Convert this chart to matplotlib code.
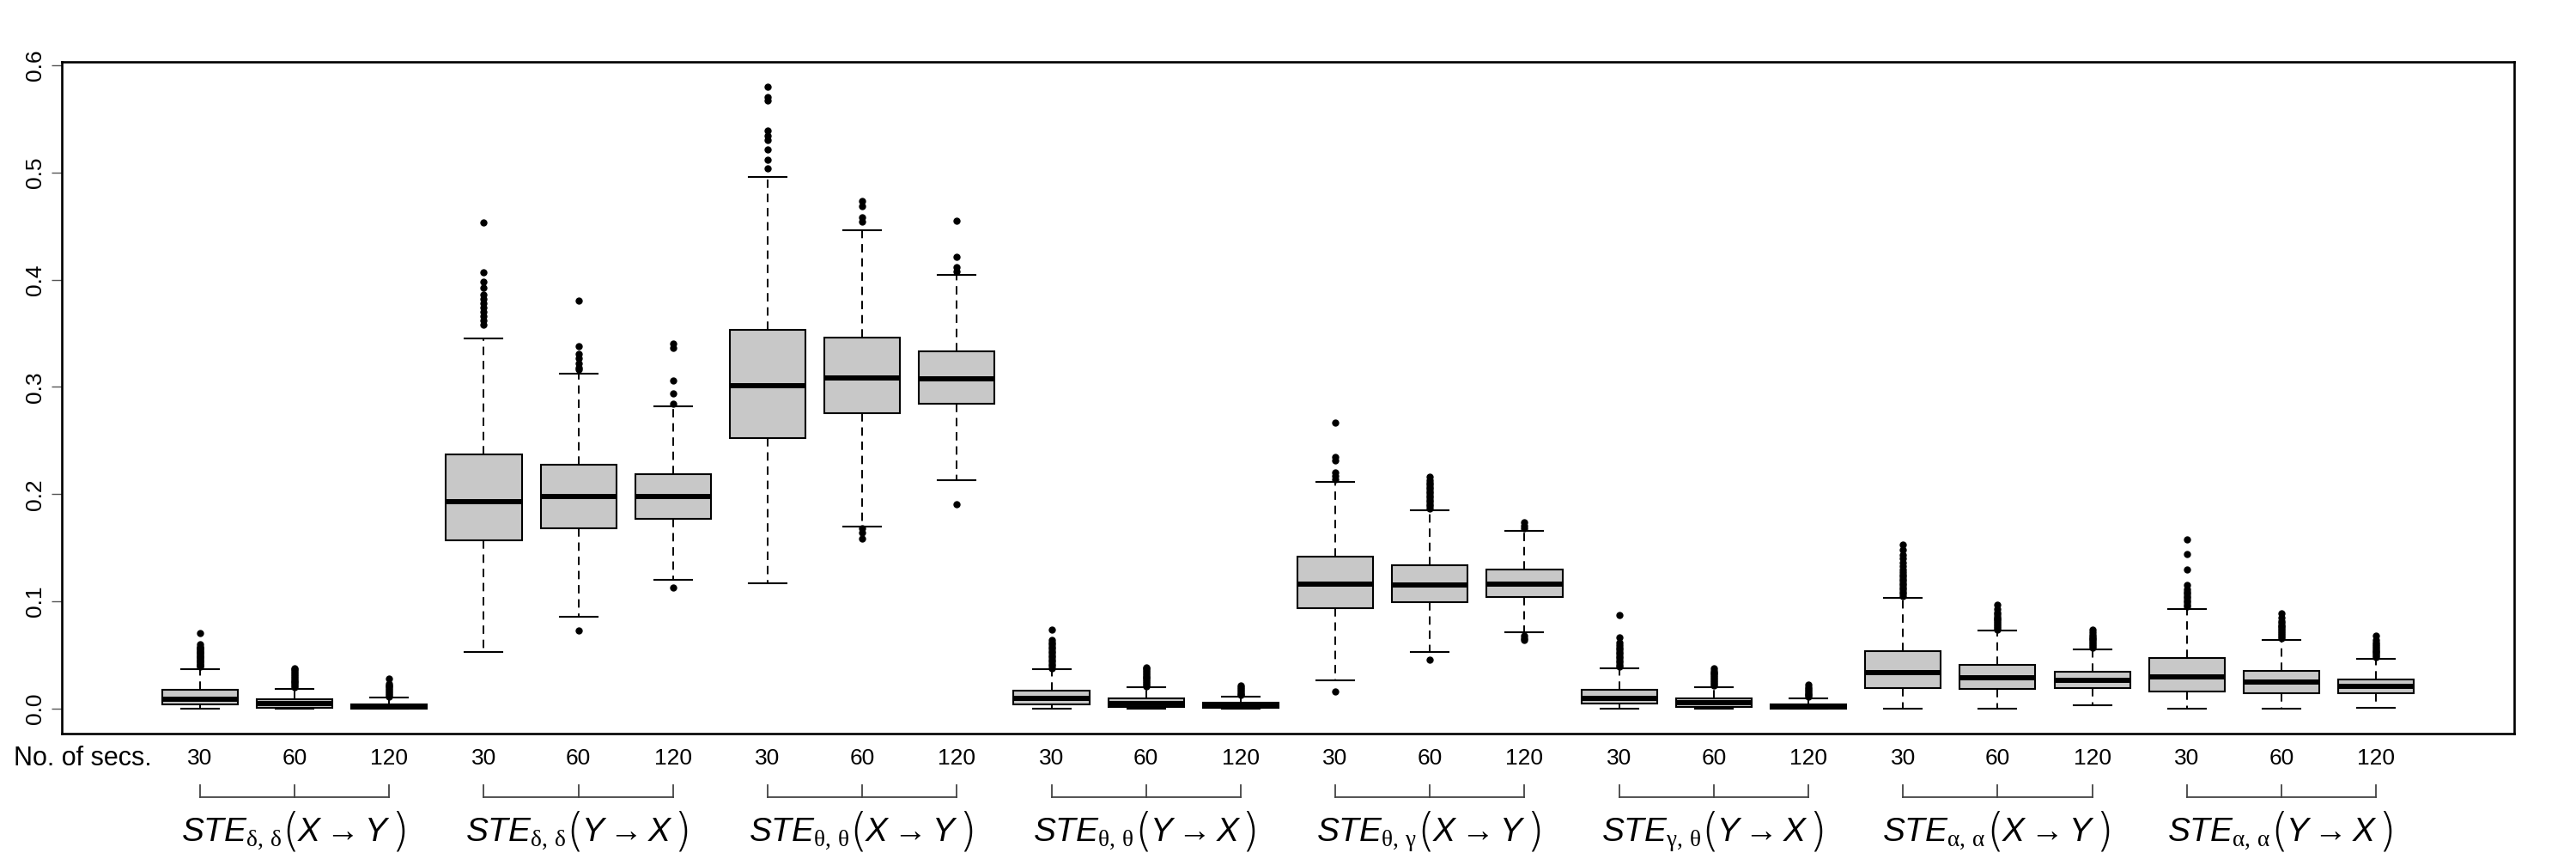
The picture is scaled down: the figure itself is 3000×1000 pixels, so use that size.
import matplotlib.pyplot as plt
import matplotlib.transforms as mtransforms

plt.rcParams['font.family'] = ['Liberation Sans', 'DejaVu Sans']
plt.rcParams['mathtext.fontset'] = 'custom'
plt.rcParams['mathtext.it'] = 'Liberation Sans:italic'
plt.rcParams['mathtext.rm'] = 'Liberation Serif'

# box statistics, 24 boxes (8 measures x 3 window lengths)
secs = ['30', '60', '120'] * 8
subs = [r'\delta,\,\delta', r'\delta,\,\delta', r'\theta,\,\theta', r'\theta,\,\theta',
        r'\theta,\,\gamma', r'\gamma,\,\theta', r'\alpha,\,\alpha', r'\alpha,\,\alpha']
dirs = [r'X \rightarrow Y', r'Y \rightarrow X'] * 4

q1 = [0.004, 0.0008, 0.0003, 0.157, 0.168, 0.1767, 0.252, 0.2754, 0.2839,
      0.004, 0.0013, 0.0005, 0.094, 0.0993, 0.1043, 0.005, 0.0018, 0.0,
      0.0193, 0.0184, 0.0195, 0.0164, 0.0147, 0.0147]
med = [0.009, 0.0045, 0.0023, 0.193, 0.1977, 0.1975, 0.3008, 0.308, 0.3077,
       0.0095, 0.0052, 0.0028, 0.1161, 0.115, 0.116, 0.010, 0.0053, 0.002,
       0.0334, 0.029, 0.0264, 0.030, 0.0248, 0.021]
q3 = [0.0174, 0.0088, 0.0044, 0.237, 0.2276, 0.219, 0.3528, 0.3459, 0.333,
      0.017, 0.0093, 0.0053, 0.1415, 0.134, 0.1297, 0.0179, 0.0098, 0.004,
      0.0533, 0.0408, 0.0347, 0.0474, 0.0356, 0.0276]
whislo = [0.0, 0.0, 0.0, 0.053, 0.0854, 0.120, 0.1166, 0.1701, 0.213,
          0.0, 0.0, 0.0, 0.0264, 0.0528, 0.0713, 0.0, 0.0, 0.0,
          0.0, 0.0, 0.003, 0.0, 0.0, 0.0006]
whishi = [0.037, 0.0187, 0.0101, 0.345, 0.3125, 0.282, 0.4956, 0.446, 0.4046,
          0.0365, 0.0197, 0.011, 0.2117, 0.185, 0.166, 0.0374, 0.0203, 0.0093,
          0.1033, 0.0726, 0.0556, 0.0929, 0.0643, 0.0464]
fliers = [
    [0.039, 0.040, 0.041, 0.042, 0.043, 0.044, 0.045, 0.046, 0.047, 0.048, 0.049,
     0.050, 0.051, 0.052, 0.053, 0.054, 0.055, 0.056, 0.057, 0.058, 0.060, 0.0705],
    [0.020, 0.0215, 0.023, 0.0245, 0.026, 0.0275, 0.029, 0.0305, 0.032, 0.0335,
     0.035, 0.0365, 0.038],
    [0.0115, 0.013, 0.0145, 0.016, 0.0175, 0.019, 0.0205, 0.022, 0.0235, 0.028],
    [0.358, 0.362, 0.366, 0.370, 0.374, 0.378, 0.382, 0.386, 0.392, 0.398, 0.407, 0.453],
    [0.073, 0.316, 0.318, 0.322, 0.327, 0.331, 0.338, 0.380],
    [0.1126, 0.284, 0.294, 0.306, 0.336, 0.340],
    [0.504, 0.512, 0.5215, 0.530, 0.534, 0.5386, 0.5666, 0.570, 0.580],
    [0.1583, 0.164, 0.1685, 0.4537, 0.4577, 0.4684, 0.473],
    [0.191, 0.408, 0.412, 0.421, 0.455],
    [0.038, 0.040, 0.042, 0.044, 0.046, 0.048, 0.050, 0.052, 0.054, 0.056, 0.058,
     0.060, 0.062, 0.064, 0.0739],
    [0.021, 0.0225, 0.024, 0.0255, 0.027, 0.0285, 0.030, 0.0315, 0.033, 0.0345,
     0.036, 0.0375, 0.0387],
    [0.0125, 0.014, 0.0155, 0.017, 0.0185, 0.020, 0.022],
    [0.0163, 0.214, 0.217, 0.220, 0.2314, 0.2348, 0.2666],
    [0.0453, 0.187, 0.189, 0.191, 0.193, 0.195, 0.197, 0.199, 0.201, 0.203, 0.205,
     0.207, 0.209, 0.211, 0.213, 0.216],
    [0.064, 0.066, 0.068, 0.168, 0.1705, 0.1734],
    [0.039, 0.041, 0.043, 0.045, 0.047, 0.049, 0.051, 0.053, 0.055, 0.057, 0.059,
     0.0616, 0.0667, 0.0873],
    [0.022, 0.0235, 0.025, 0.0265, 0.028, 0.0295, 0.031, 0.0325, 0.034, 0.0355,
     0.038],
    [0.011, 0.0125, 0.014, 0.0155, 0.017, 0.0185, 0.020, 0.0227],
    [0.105, 0.107, 0.109, 0.111, 0.113, 0.115, 0.117, 0.119, 0.121, 0.123, 0.125,
     0.127, 0.130, 0.133, 0.136, 0.140, 0.143, 0.148, 0.153],
    [0.074, 0.0755, 0.077, 0.0785, 0.080, 0.0815, 0.083, 0.0845, 0.086, 0.088,
     0.090, 0.093, 0.0969],
    [0.057, 0.0585, 0.060, 0.0615, 0.063, 0.0645, 0.066, 0.0675, 0.069, 0.071, 0.0734],
    [0.095, 0.097, 0.099, 0.101, 0.103, 0.105, 0.107, 0.109, 0.111, 0.115, 0.130,
     0.144, 0.158],
    [0.066, 0.0675, 0.069, 0.0705, 0.072, 0.0735, 0.075, 0.0765, 0.078, 0.080,
     0.082, 0.085, 0.0889],
    [0.048, 0.0495, 0.051, 0.0525, 0.054, 0.0555, 0.057, 0.0585, 0.060, 0.062,
     0.064, 0.0678],
]

stats = []
for i in range(len(secs)):
    stats.append(dict(q1=q1[i], med=med[i], q3=q3[i], whislo=whislo[i],
                      whishi=whishi[i], fliers=fliers[i]))
positions = list(range(1, len(secs) + 1))

fig = plt.figure(figsize=(30, 10), dpi=100)
ax = fig.add_axes([0.024, 0.146, 0.952, 0.782])

ax.bxp(stats, positions=positions, widths=0.8, capwidths=0.4,
       patch_artist=True, manage_ticks=False,
       boxprops=dict(facecolor='#c8c8c8', edgecolor='black', linewidth=1.5),
       medianprops=dict(color='black', linewidth=4.3, solid_capstyle='butt'),
       whiskerprops=dict(color='black', linewidth=1.4, linestyle=(0, (5, 3.5))),
       capprops=dict(color='black', linewidth=1.5),
       flierprops=dict(marker='o', markerfacecolor='black',
                       markeredgecolor='black', markersize=5))

ax.set_xlim(-0.46, 25.46)
ax.set_ylim(-0.0232, 0.603)
ax.set_xticks([])
ax.set_yticks([0.0, 0.1, 0.2, 0.3, 0.4, 0.5, 0.6])
ax.set_yticklabels(['0.0', '0.1', '0.2', '0.3', '0.4', '0.5', '0.6'])
ax.tick_params(axis='y', length=9, width=1, color='#555555', labelsize=19,
               pad=5, labelrotation=90)
for lab in ax.get_yticklabels():
    lab.set_va('center')
for sp in ax.spines.values():
    sp.set_linewidth(1.9)

# labels below the plot
trans = mtransforms.blended_transform_factory(ax.transData, fig.transFigure)
fig.text(0.0053, 0.117, 'No. of secs.', fontsize=22, ha='left', va='center')
for p, s in zip(positions, secs):
    ax.text(p, 0.117, s, transform=trans, fontsize=19, ha='center', va='center')

label_y = 0.021
label_parts = []
for g in range(len(subs)):
    p1, p2, p3 = 3 * g + 1, 3 * g + 2, 3 * g + 3
    ax.plot([p1, p3], [0.072, 0.072], transform=trans, clip_on=False,
            color='#444444', lw=1.3)
    for p in (p1, p2, p3):
        ax.plot([p, p], [0.072, 0.086], transform=trans, clip_on=False,
                color='#444444', lw=1.3)
    # group name built from pieces so the brackets can be taller
    t0 = ax.text(p2, label_y, r'$STE_{\mathrm{' + subs[g] + '}}$', transform=trans,
                 fontsize=28, ha='left', va='baseline')
    parts = [t0]
    prev = t0
    for s, fs, dx, dy in [('(', 38, 0, -4), ('$' + dirs[g] + '$', 28, -2, 0),
                          (')', 38, 0, -4)]:
        kw = dict(family='DejaVu Sans', fontweight='light') if s in '()' else {}
        a = ax.annotate(s, xy=(1, label_y), xycoords=(prev, fig.transFigure),
                        xytext=(dx, dy), textcoords='offset points', fontsize=fs,
                        ha='left', va='baseline', **kw)
        parts.append(a)
        prev = a
    label_parts.append((p2, parts))

# centre each composed label under its group
fig.canvas.draw()
renderer = fig.canvas.get_renderer()
px_per_unit = ax.transData.transform((1, 0))[0] - ax.transData.transform((0, 0))[0]
for centre, parts in label_parts:
    x0 = parts[0].get_window_extent(renderer).x0
    x1 = parts[-1].get_window_extent(renderer).x1
    parts[0].set_x(centre - (x1 - x0) / 2 / px_per_unit)

plt.savefig('out.png', dpi=100)
